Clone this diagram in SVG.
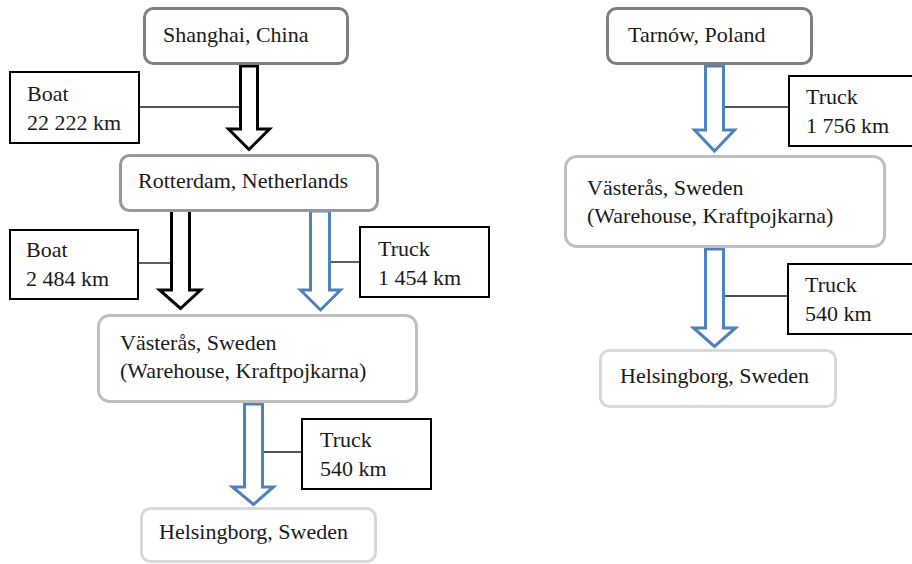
<svg xmlns="http://www.w3.org/2000/svg" width="912" height="564" viewBox="0 0 912 564">
<defs>
<polygon id="arr" points="0,0 0,0"/>
</defs>
<rect width="912" height="564" fill="#fff"/>
<g id="connectors" fill="none">
<g stroke="#1a1a1a" stroke-width="1.4">
<line x1="140" y1="107" x2="240" y2="107"/>
<line x1="139" y1="263" x2="171" y2="263"/>
<line x1="330" y1="262" x2="359" y2="262"/>
<line x1="263" y1="452" x2="301" y2="452"/>
<line x1="724" y1="107" x2="788" y2="107"/>
<line x1="724" y1="296" x2="787" y2="296"/>
</g>
<g fill="#fff" stroke="#000" stroke-width="3">
<polygon points="240.5,66 257.5,66 257.5,129 269.5,129 249,149.5 228.5,129 240.5,129"/>
<polygon points="171.5,209 189.5,209 189.5,290 200.5,290 180.5,308.5 159.5,290 171.5,290"/>
</g>
<g fill="#fff" stroke="#4f81bd" stroke-width="3">
<polygon points="310.5,211 329.5,211 329.5,290 340.5,290 320.5,310 300.5,290 310.5,290"/>
<polygon points="244.5,404 262.5,404 262.5,487 273.5,487 253.5,504.5 232.5,487 244.5,487"/>
<polygon points="705.5,66 723.5,66 723.5,130 734.5,130 714.5,151 694.5,130 705.5,130"/>
<polygon points="705.5,249 723.5,249 723.5,328 735.5,328 714.5,346.5 693.5,328 705.5,328"/>
</g>
</g>
<g id="shanghai"><rect fill="#fff" stroke="#7f7f7f" stroke-width="3" x="144.5" y="8.5" width="203" height="55" rx="9"/><text font-family="Liberation Serif" font-size="22" fill="#1a1a1a" x="163" y="42">Shanghai, China</text></g>
<g id="boat1"><rect fill="#fff" stroke="#000" stroke-width="2" x="10" y="72" width="129" height="71"/><text font-family="Liberation Serif" font-size="22" fill="#1a1a1a" x="27" y="101">Boat</text><text font-family="Liberation Serif" font-size="22" fill="#1a1a1a" x="27" y="130">22 222 km</text></g>
<g id="rotterdam"><rect fill="#fff" stroke="#999" stroke-width="3" x="120.5" y="155.5" width="257" height="55" rx="9"/><text font-family="Liberation Serif" font-size="22" fill="#1a1a1a" x="138" y="188">Rotterdam, Netherlands</text></g>
<g id="boat2"><rect fill="#fff" stroke="#000" stroke-width="2" x="10" y="230" width="128" height="69"/><text font-family="Liberation Serif" font-size="22" fill="#1a1a1a" x="26" y="257">Boat</text><text font-family="Liberation Serif" font-size="22" fill="#1a1a1a" x="26" y="286">2 484 km</text></g>
<g id="truck1"><rect fill="#fff" stroke="#000" stroke-width="2" x="360" y="227" width="129" height="70"/><text font-family="Liberation Serif" font-size="22" fill="#1a1a1a" x="378" y="256">Truck</text><text font-family="Liberation Serif" font-size="22" fill="#1a1a1a" x="378" y="285">1 454 km</text></g>
<g id="vasteras1"><rect fill="#fff" stroke="#bfbfbf" stroke-width="3" x="98.5" y="315.5" width="318" height="86" rx="11"/><text font-family="Liberation Serif" font-size="22" fill="#1a1a1a" x="120" y="350">Västerås, Sweden</text><text font-family="Liberation Serif" font-size="22" fill="#1a1a1a" x="120" y="378">(Warehouse, Kraftpojkarna)</text></g>
<g id="truck2"><rect fill="#fff" stroke="#000" stroke-width="2" x="302" y="419" width="129" height="70"/><text font-family="Liberation Serif" font-size="22" fill="#1a1a1a" x="320" y="447">Truck</text><text font-family="Liberation Serif" font-size="22" fill="#1a1a1a" x="320" y="476">540 km</text></g>
<g id="helsingborg1"><rect fill="#fff" stroke="#d9d9d9" stroke-width="3" x="141.5" y="508.5" width="234" height="53" rx="9"/><text font-family="Liberation Serif" font-size="22" fill="#1a1a1a" x="159" y="539">Helsingborg, Sweden</text></g>
<g id="tarnow"><rect fill="#fff" stroke="#7f7f7f" stroke-width="3" x="607.5" y="8.5" width="204" height="55" rx="9"/><text font-family="Liberation Serif" font-size="22" fill="#1a1a1a" x="628" y="42">Tarnów, Poland</text></g>
<g id="truck3"><rect fill="#fff" stroke="#000" stroke-width="2" x="789" y="76" width="140" height="70"/><text font-family="Liberation Serif" font-size="22" fill="#1a1a1a" x="806" y="104">Truck</text><text font-family="Liberation Serif" font-size="22" fill="#1a1a1a" x="806" y="133">1 756 km</text></g>
<g id="vasteras2"><rect fill="#fff" stroke="#bfbfbf" stroke-width="3" x="565.5" y="156.5" width="319" height="90" rx="11"/><text font-family="Liberation Serif" font-size="22" fill="#1a1a1a" x="587" y="195">Västerås, Sweden</text><text font-family="Liberation Serif" font-size="22" fill="#1a1a1a" x="587" y="223">(Warehouse, Kraftpojkarna)</text></g>
<g id="truck4"><rect fill="#fff" stroke="#000" stroke-width="2" x="788" y="264" width="140" height="70"/><text font-family="Liberation Serif" font-size="22" fill="#1a1a1a" x="805" y="292">Truck</text><text font-family="Liberation Serif" font-size="22" fill="#1a1a1a" x="805" y="321">540 km</text></g>
<g id="helsingborg2"><rect fill="#fff" stroke="#d9d9d9" stroke-width="3" x="600.5" y="350.5" width="235" height="56" rx="9"/><text font-family="Liberation Serif" font-size="22" fill="#1a1a1a" x="620" y="383">Helsingborg, Sweden</text></g>
</svg>
